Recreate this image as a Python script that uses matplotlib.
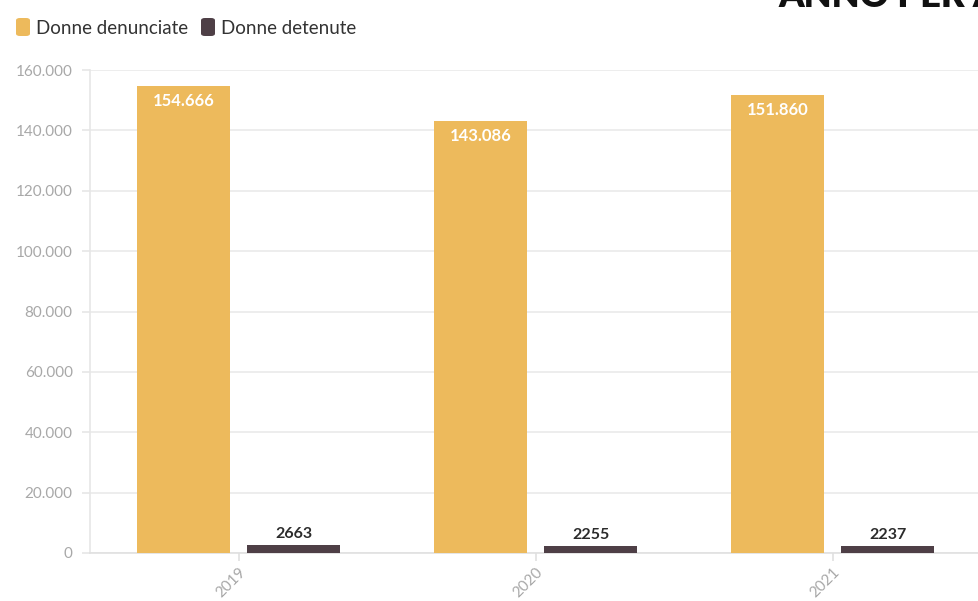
import matplotlib.pyplot as plt
import numpy as np
from matplotlib.patches import FancyBboxPatch
from matplotlib.ticker import FuncFormatter

plt.rcParams['font.family'] = ['Lato', 'DejaVu Sans']

# --- dati ---
anni = ['2019', '2020', '2021']
denunciate = [154666, 143086, 151860]
detenute = [2663, 2255, 2237]
serie = ['Donne denunciate', 'Donne detenute']
colori = ['#EDBA5C', '#4E3F46']

W, H = 979, 601
fig = plt.figure(figsize=(W / 100, H / 100), dpi=100)
ax = fig.add_axes([90 / W, 48 / H, 891 / W, 483 / H])

x = np.arange(len(anni))
w = 0.313
off = 0.186
b1 = ax.bar(x - off, denunciate, w, color=colori[0], zorder=3)
b2 = ax.bar(x + off, detenute, w, color=colori[1], zorder=3)

def fmt_it(v):
    return f'{int(round(v)):,}'.replace(',', '.')

for r, v in zip(b1, denunciate):
    ax.annotate(fmt_it(v), xy=(r.get_x() + r.get_width() / 2, v),
                xytext=(0, -5), textcoords='offset points',
                ha='center', va='top', color='white', fontsize=12,
                fontweight='bold', zorder=4)
for r, v in zip(b2, detenute):
    ax.annotate(str(v), xy=(r.get_x() + r.get_width() / 2, v),
                xytext=(0, 3), textcoords='offset points',
                ha='center', va='bottom', color='#2b2b2b', fontsize=11.5,
                fontweight='bold', zorder=4)

ax.set_xlim(-0.5, 2.5)
ax.set_ylim(0, 160000)
ax.set_yticks(np.arange(0, 160001, 20000))
ax.yaxis.set_major_formatter(FuncFormatter(lambda v, p: fmt_it(v)))
ax.set_xticks(x)
ax.set_xticklabels(anni, rotation=45, ha='right', va='top',
                   rotation_mode='anchor')

ax.grid(axis='y', color='#EAEAEA', linewidth=1.2, zorder=0)
for s in ['top', 'right']:
    ax.spines[s].set_visible(False)
ax.spines['left'].set_color('#E6E6E6')
ax.spines['bottom'].set_color('#E0E0E0')
ax.spines['left'].set_linewidth(1.2)
ax.spines['bottom'].set_linewidth(1.2)
ax.tick_params(axis='y', length=6, color='#E6E6E6', width=1.2,
               labelcolor='#A8A8A8', labelsize=11, pad=6.5)
ax.tick_params(axis='x', length=6, color='#E0E0E0', width=1.2,
               labelcolor='#A8A8A8', labelsize=11, pad=3)

# legenda in alto a sinistra
leg_x = [16, 201]
for lx, lab, c in zip(leg_x, serie, colori):
    fig.patches.append(FancyBboxPatch((lx / W, (H - 36) / H), 14 / W, 18 / H,
                                      boxstyle='round,pad=0,rounding_size=0.004',
                                      transform=fig.transFigure,
                                      facecolor=c, edgecolor='none'))
    fig.text((lx + 20) / W, (H - 28) / H, lab, ha='left', va='center',
             fontsize=13.5, color='#333333')

# titolo (tagliato in alto)
fig.text(778 / W, (H - 7) / H, 'ANNO PER ANNO', ha='left', va='baseline',
         fontsize=26, fontweight='heavy', color='#111111')

fig.savefig('out.png', dpi=100)
